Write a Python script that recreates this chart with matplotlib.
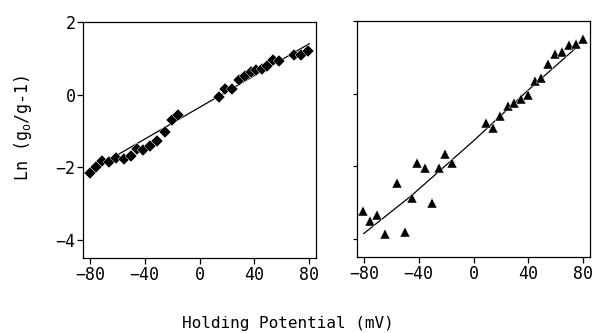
import matplotlib
matplotlib.use("Agg")
import matplotlib.pyplot as plt

# left panel: diamonds
left_x = [-80, -75.6, -70.8, -66, -60.6, -55.3, -50.2, -45.6, -41.2, -36.4,
          -30.8, -25.5, -20.1, -15.8, 14.1, 18.7, 23.5, 29.1, 33.2, 37.6,
          41.2, 45.3, 49, 53.3, 58.2, 69.1, 73.9, 78.8]
left_y = [-2.17, -2.0, -1.83, -1.85, -1.74, -1.77, -1.70, -1.51, -1.53, -1.42,
          -1.27, -1.04, -0.71, -0.55, -0.07, 0.16, 0.16, 0.41, 0.50, 0.61,
          0.67, 0.71, 0.80, 0.94, 0.92, 1.10, 1.10, 1.19]
left_fit_x = [-80, 80]
left_fit_y = [-2.1, 1.4]

# right panel: triangles
right_x = [-80.7, -75.3, -70.4, -64.8, -55.7, -50.1, -45.2, -41.1, -35.5, -30.1,
           -25.2, -20.8, -15.4, 9.0, 14.4, 19.3, 24.9, 29.8, 34.7, 40.1,
           44.5, 49.4, 54.3, 59.2, 64.5, 69.4, 75.1, 80]
right_y = [-3.22, -3.52, -3.34, -3.86, -2.45, -3.82, -2.88, -1.92, -2.06, -3.02,
           -2.06, -1.65, -1.90, -0.81, -0.95, -0.61, -0.35, -0.26, -0.15, -0.04,
           0.35, 0.44, 0.81, 1.08, 1.15, 1.33, 1.37, 1.51]
right_fit_x = [-80, -45, 0, 40, 76]
right_fit_y = [-3.85, -2.8, -1.3, 0.1, 1.3]

xticks = [-80, -40, 0, 40, 80]
yticks = [-4, -2, 0, 2]

plt.rcParams['font.family'] = ['DejaVu Sans Mono']

fig = plt.figure(figsize=(5.93, 3.33), dpi=100)
ax1 = fig.add_axes([0.140, 0.225, 0.393, 0.709])
ax2 = fig.add_axes([0.602, 0.228, 0.393, 0.709])

ax1.plot(left_fit_x, left_fit_y, color='black', lw=0.9)
ax1.plot(left_x, left_y, 'D', color='black', ms=6, mec='white', mew=0.3)
ax2.plot(right_fit_x, right_fit_y, color='black', lw=0.9)
ax2.plot(right_x, right_y, '^', color='black', ms=7.5, mec='white', mew=0.3)

for ax in (ax1, ax2):
    ax.set_xlim(-85, 85)
    ax.set_ylim(-4.5, 2)
    ax.set_xticks(xticks)
    ax.set_yticks(yticks)
    ax.tick_params(direction='out', length=4.5, width=0.9, pad=1,
                   labelsize=12, colors='black')
    for spine in ax.spines.values():
        spine.set_linewidth(0.9)

ax2.tick_params(axis='y', labelleft=False, length=3)

fig.text(0.038, 0.615, 'Ln (g$_\\mathregular{o}$/g-1)', rotation=90,
         ha='center', va='center', fontsize=12)
fig.text(0.485, 0.03, 'Holding Potential (mV)', ha='center', va='center',
         fontsize=11.5)

fig.savefig('out.png', dpi=100)
